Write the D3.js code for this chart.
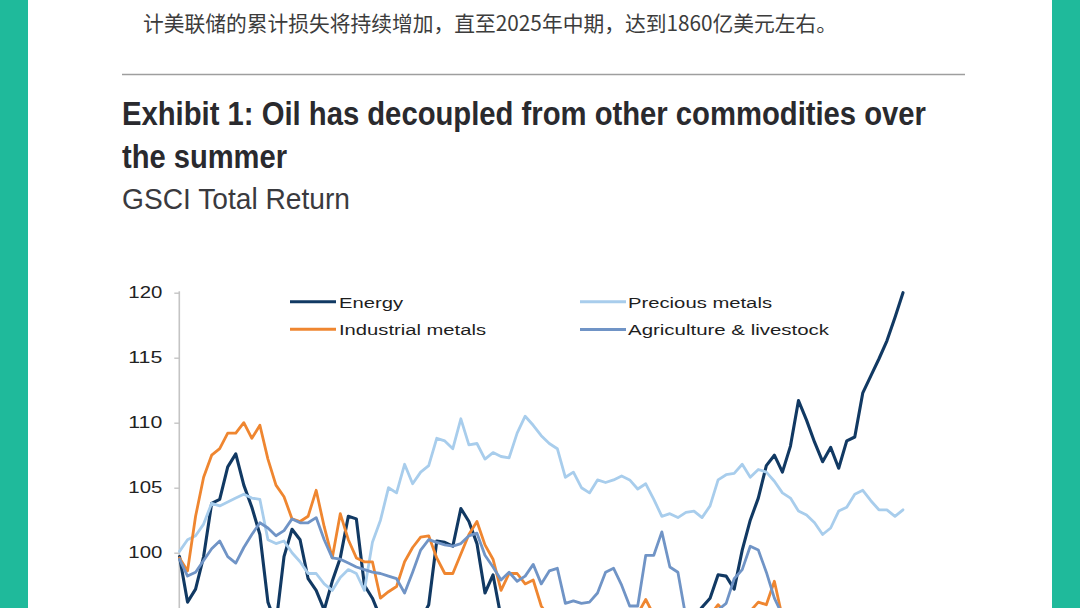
<!DOCTYPE html>
<html><head><meta charset="utf-8">
<script src="https://cdn.jsdelivr.net/npm/d3@7"></script>
<style>html,body{margin:0;padding:0;background:#fff;overflow:hidden}</style>
</head><body>
<svg id="c" width="1080" height="608"></svg>
<script>
// ---- data (GSCI Total Return, indexed = 100 at start; values below ~95.7 are outside the visible crop) ----
const introText = "计美联储的累计损失将持续增加，直至2025年中期，达到1860亿美元左右。";
const titleLines = ["Exhibit 1: Oil has decoupled from other commodities over", "the summer"];
const subtitle = "GSCI Total Return";
const seriesNames = ["Energy", "Precious metals", "Industrial metals", "Agriculture & livestock"];
const yTicks = [100, 105, 110, 115, 120];

const energy = [
99.7, 96.2, 97.2, 99.7, 103.8, 104.1, 106.6, 107.6, 105.2, 103.5,
101.4, 96.2, 94.5, 99.7, 101.8, 101.0, 98.0, 97.1, 95.6, 97.8,
99.6, 102.8, 102.6, 97.5, 96.5, 95.0, 94.5, 94.2, 94.3, 94.5,
94.8, 96.0, 100.9, 100.8, 100.5, 103.4, 102.4, 100.7, 96.9, 98.3,
95.0, 94.5, 94.0, 93.8, 93.5, 93.9, 94.2, 93.6, 93.2, 93.5,
93.0, 93.4, 93.8, 94.1, 93.7, 93.3, 93.6, 94.0, 94.3, 93.8,
94.2, 94.6, 94.3, 94.8, 95.0, 95.8, 96.5, 98.3, 98.2, 97.2,
100.2, 102.5, 104.2, 106.7, 107.5, 106.2, 108.2, 111.7, 110.2, 108.5,
107.0, 108.1, 106.5, 108.6, 108.9, 112.3, 113.6, 114.9, 116.3, 118.1,
120.0];

const precious = [
100.1, 101.0, 101.3, 102.2, 103.8, 103.6, 103.9, 104.2, 104.5, 104.2,
104.1, 101.0, 100.7, 100.9, 100.0, 99.3, 98.4, 98.4, 97.6, 97.1,
98.1, 98.7, 98.4, 97.1, 100.8, 102.5, 105.0, 104.6, 106.8, 105.3,
106.2, 106.7, 108.8, 108.6, 108.0, 110.3, 108.3, 108.4, 107.2, 107.7,
107.4, 107.3, 109.2, 110.5, 109.8, 109.0, 108.4, 108.0, 105.8, 106.2,
105.0, 104.6, 105.6, 105.4, 105.6, 105.9, 105.6, 104.9, 105.3, 104.1,
102.8, 103.0, 102.7, 103.1, 103.2, 102.7, 103.6, 105.6, 106.0, 106.1,
106.8, 105.8, 106.4, 106.2, 105.5, 104.6, 104.2, 103.2, 102.9, 102.3,
101.4, 101.9, 103.2, 103.5, 104.5, 104.8, 104.0, 103.3, 103.3, 102.8,
103.3];

const industrial = [
99.6, 98.6, 102.8, 105.8, 107.5, 108.0, 109.2, 109.2, 110.0, 108.8,
109.8, 107.2, 105.2, 104.3, 102.6, 102.4, 102.8, 104.8, 102.0, 99.6,
103.0, 101.0, 99.6, 99.3, 99.3, 96.5, 97.0, 97.4, 99.3, 100.4,
101.2, 101.3, 99.6, 98.4, 98.4, 99.9, 101.4, 102.4, 100.6, 99.5,
97.1, 98.4, 98.4, 97.6, 97.9, 95.9, 95.0, 94.8, 94.5, 94.7,
94.6, 94.8, 94.5, 94.9, 95.0, 94.7, 95.0, 95.3, 96.4, 95.2,
94.8, 94.6, 94.9, 94.5, 94.7, 94.9, 95.2, 96.0, 95.3, 94.8,
95.0, 95.5, 96.2, 96.0, 97.8, 95.0, 94.8, 94.5, 94.2, 94.0,
94.3, 94.1, 94.4, 94.6, 94.3, 94.5, 94.7, 94.4, 94.2, 94.5,
94.6];

const agriculture = [
99.5, 98.2, 98.5, 99.4, 100.3, 100.9, 99.7, 99.2, 100.4, 101.4,
102.3, 101.9, 101.3, 101.7, 102.6, 102.3, 102.3, 102.7, 101.0, 99.6,
99.5, 99.2, 98.9, 98.7, 98.5, 98.4, 98.2, 98.0, 96.9, 98.5,
100.2, 101.0, 100.8, 100.6, 100.5, 100.7, 101.3, 101.5, 99.8, 98.9,
97.9, 98.5, 97.8, 98.2, 99.1, 97.6, 98.6, 98.8, 96.1, 96.3,
96.1, 96.2, 96.9, 98.5, 98.8, 97.5, 95.9, 95.9, 99.8, 99.8,
101.6, 98.9, 98.5, 95.0, 94.6, 94.8, 95.3, 95.6, 96.1, 98.0,
98.7, 100.5, 100.2, 98.5, 96.5, 95.2, 94.8, 94.5, 94.3, 94.6,
94.2, 94.0, 94.4, 94.1, 93.9, 94.3, 94.0, 93.8, 94.1, 93.9,
94.2];

// ---- drawing ----
const colors = {"Energy":"#113963", "Precious metals":"#a8cdec", "Industrial metals":"#ef8630", "Agriculture & livestock":"#7094c6"};
const seriesData = {"Energy":energy, "Precious metals":precious, "Industrial metals":industrial, "Agriculture & livestock":agriculture};

const svg = d3.select("#c");
svg.append("rect").attr("width",1080).attr("height",608).attr("fill","#ffffff");
svg.append("rect").attr("x",0).attr("y",0).attr("width",28).attr("height",608).attr("fill","#1fba9b");
svg.append("rect").attr("x",1052).attr("y",0).attr("width",28).attr("height",608).attr("fill","#1fba9b");

svg.append("text").attr("x",143).attr("y",30.5)
  .attr("font-family","'Noto Sans CJK SC', sans-serif").attr("font-size",21)
  .attr("fill","#3c3c3c").attr("textLength",694).attr("lengthAdjust","spacingAndGlyphs")
  .text(introText);

svg.append("line").attr("x1",122).attr("x2",965).attr("y1",74.5).attr("y2",74.5)
  .attr("stroke","#9e9e9e").attr("stroke-width",1.6);

const titleW = [804, 165];
titleLines.forEach((t,i)=>{
  svg.append("text").attr("x",122).attr("y",125 + i*43)
    .attr("font-family","'Liberation Sans', Arial, sans-serif").attr("font-weight","bold")
    .attr("font-size",33.5).attr("fill","#2a2a2e")
    .attr("textLength",titleW[i]).attr("lengthAdjust","spacingAndGlyphs").text(t);
});
svg.append("text").attr("x",122).attr("y",208.5)
  .attr("font-family","'Liberation Sans', Arial, sans-serif")
  .attr("font-size",29).attr("fill","#3a3a3e")
  .attr("textLength",228).attr("lengthAdjust","spacingAndGlyphs").text(subtitle);

const N = energy.length;
const x = d3.scaleLinear().domain([0, N-1]).range([179.5, 903]);
const y = d3.scaleLinear().domain([90, 120]).range([682.7, 292.7]);

const axis = d3.axisLeft(y).tickValues(yTicks).tickSize(5).tickSizeOuter(0).tickPadding(12);
const ag = svg.append("g").attr("transform","translate(179.3,0)").call(axis);
ag.select(".domain").attr("stroke","#c4c4c4").attr("stroke-width",1.6)
  .attr("d", `M0,${y(120)-1.5}V${y(90)}`);
ag.selectAll(".tick line").attr("stroke","#c4c4c4").attr("stroke-width",1.4);
ag.selectAll(".tick text")
  .attr("font-family","'Liberation Sans', Arial, sans-serif").attr("font-size",16.3)
  .attr("fill","#222").attr("textLength",34).attr("lengthAdjust","spacingAndGlyphs");

const line = d3.line().x((d,i)=>x(i)).y(d=>y(d));
seriesNames.forEach(name=>{
  svg.append("path").datum(seriesData[name])
    .attr("d", line).attr("fill","none")
    .attr("stroke", colors[name]).attr("stroke-width", name==="Energy" ? 3.1 : 2.8)
    .attr("stroke-linejoin","round").attr("stroke-linecap","round");
});

// legend (2 columns, row-major)
const legendPos = [
  {lx:290, ly:301.7, tx:339, ty:307.5, w:64},
  {lx:580, ly:301.7, tx:628, ty:307.5, w:144},
  {lx:290, ly:329.3, tx:339, ty:335, w:147},
  {lx:580, ly:329.5, tx:628, ty:335, w:201}
];
seriesNames.forEach((name,i)=>{
  const p = legendPos[i];
  svg.append("line").attr("x1",p.lx).attr("x2",p.lx+46).attr("y1",p.ly).attr("y2",p.ly)
    .attr("stroke",colors[name]).attr("stroke-width",3);
  svg.append("text").attr("x",p.tx).attr("y",p.ty)
    .attr("font-family","'Liberation Sans', Arial, sans-serif").attr("font-size",15.5)
    .attr("fill","#1e1e1e").attr("textLength",p.w).attr("lengthAdjust","spacingAndGlyphs")
    .text(name);
});
</script>
</body></html>
